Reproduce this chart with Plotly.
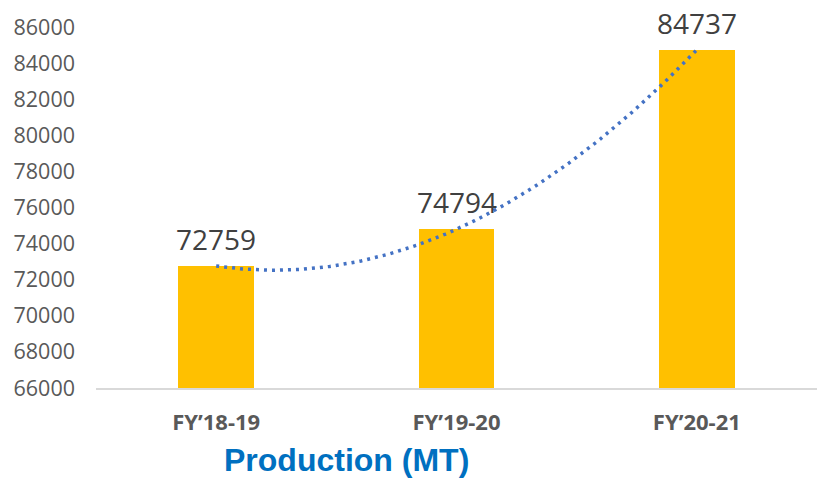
import numpy as np
import plotly.graph_objects as go

# Annual production figures
years = ["FY\u201918-19", "FY\u201919-20", "FY\u201920-21"]
production = [72759, 74794, 84737]
y_ticks = list(range(66000, 86001, 2000))

x_idx = np.arange(len(years))

# Second-order polynomial trendline through the yearly values
coef = np.polyfit(x_idx, production, 2)
x_fit = np.linspace(x_idx[0], x_idx[-1], 200)
y_fit = np.polyval(coef, x_fit)

fig = go.Figure()

fig.add_trace(go.Bar(
    x=x_idx,
    y=production,
    width=0.316,
    marker=dict(color="#FFC000", line=dict(width=0)),
    showlegend=False,
    hoverinfo="skip",
))

fig.add_trace(go.Scatter(
    x=x_fit,
    y=y_fit,
    mode="lines",
    line=dict(color="#4472C4", width=3.5, dash="3px,5px"),
    showlegend=False,
    hoverinfo="skip",
))

# Value labels above each bar
for xi, v in zip(x_idx, production):
    fig.add_annotation(
        x=xi, y=v, xref="x", yref="y",
        text=str(v), showarrow=False,
        yanchor="middle", yshift=27,
        font=dict(family="Open Sans", size=28, color="#404040"),
    )

# Chart caption below the category labels
fig.add_annotation(
    x=0.347, y=-0.2, xref="paper", yref="paper",
    text="<b>Production (MT)</b>", showarrow=False,
    xanchor="center", yanchor="middle",
    font=dict(family="Liberation Sans", size=32, color="#0070C0"),
)

fig.update_layout(
    width=821, height=483,
    margin=dict(l=96, r=4, t=27, b=95),
    paper_bgcolor="white",
    plot_bgcolor="white",
    bargap=0,
    xaxis=dict(
        range=[-0.5, 2.5],
        tickmode="array",
        tickvals=list(x_idx),
        ticktext=[f"<b>{y}</b>" for y in years],
        tickfont=dict(family="Open Sans", size=22, color="#595959"),
        showgrid=False,
        zeroline=False,
        showline=True,
        linecolor="#D9D9D9",
        linewidth=1.5,
        ticks="",
        ticklabelstandoff=14,
    ),
    yaxis=dict(
        range=[66000, 86000],
        tickmode="array",
        tickvals=y_ticks,
        ticktext=[str(t) for t in y_ticks],
        tickfont=dict(family="Open Sans", size=21.5, color="#595959"),
        showgrid=False,
        zeroline=False,
        showline=False,
        ticks="",
        ticklabelstandoff=20,
    ),
)

fig.write_html("out.html")
